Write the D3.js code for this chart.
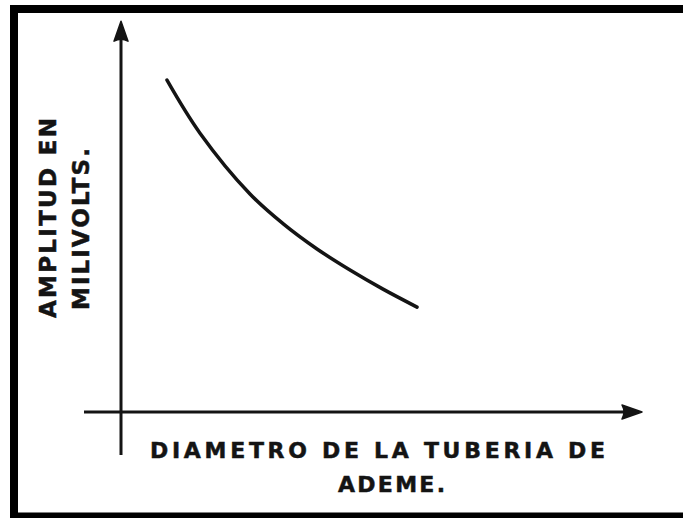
<!DOCTYPE html>
<html>
<head>
<meta charset="utf-8">
<script src="https://cdn.jsdelivr.net/npm/d3@7"></script>
<style>
  html, body { margin: 0; background: #fff; overflow: hidden; }
  svg { display: block; }
  text { font-family: "DejaVu Sans", sans-serif; font-weight: bold; fill: #141414; stroke: #141414; stroke-width: 0.5; }
</style>
</head>
<body>
<div id="chart"></div>
<script>
// values (no units on the original, arbitrary 0-10 scale)
const diameter = [0.92, 1.58, 2.58, 3.24, 3.92, 4.58, 5.24, 5.92];
const amplitude = [8.51, 7.15, 5.59, 4.83, 4.18, 3.64, 3.15, 2.69];
const xLabel = ["DIAMETRO DE LA TUBERIA DE", "ADEME."];
const yLabel = ["AMPLITUD EN", "MILIVOLTS."];

const width = 683, height = 518;
const ink = "#141414";

const svg = d3.select("#chart")
  .append("svg")
  .attr("width", width)
  .attr("height", height);

// frame (top, left, bottom only - right side is cut off in the scan)
svg.append("path")
  .attr("d", "M690,9 L14,9 L14,516.5 L690,516.5")
  .attr("fill", "none")
  .attr("stroke", "#000")
  .attr("stroke-width", 8);

const x = d3.scaleLinear().domain([0, 10]).range([121, 621]);
const y = d3.scaleLinear().domain([0, 10]).range([412, 22]);

// axes drawn as plain arrows
svg.append("line")
  .attr("x1", x(0)).attr("x2", x(0))
  .attr("y1", y(-1.1)).attr("y2", y(9.6))
  .attr("stroke", ink).attr("stroke-width", 3);

svg.append("line")
  .attr("x1", x(-0.74)).attr("x2", x(10.1))
  .attr("y1", y(0)).attr("y2", y(0))
  .attr("stroke", ink).attr("stroke-width", 3);

// arrow heads
const yTip = [x(0), y(10.02)];
svg.append("path")
  .attr("d", `M${yTip[0]},${yTip[1]} L${yTip[0] + 7},${yTip[1] + 20} Q${yTip[0]},${yTip[1] + 16} ${yTip[0] - 7},${yTip[1] + 20} Z`)
  .attr("fill", ink).attr("stroke", ink).attr("stroke-width", 1.5).attr("stroke-linejoin", "round");

const xTip = [x(10.42), y(0)];
svg.append("path")
  .attr("d", `M${xTip[0]},${xTip[1]} L${xTip[0] - 20},${xTip[1] - 7} Q${xTip[0] - 16},${xTip[1]} ${xTip[0] - 20},${xTip[1] + 7} Z`)
  .attr("fill", ink).attr("stroke", ink).attr("stroke-width", 1.5).attr("stroke-linejoin", "round");

// the curve
const pts = diameter.map((d, i) => [d, amplitude[i]]);
const line = d3.line()
  .x(d => x(d[0]))
  .y(d => y(d[1]))
  .curve(d3.curveCatmullRom);

svg.append("path")
  .datum(pts)
  .attr("d", line)
  .attr("fill", "none")
  .attr("stroke", ink)
  .attr("stroke-width", 3.5)
  .attr("stroke-linecap", "round");

// x label
svg.append("text")
  .attr("x", 150).attr("y", 458)
  .attr("font-size", 22)
  .attr("textLength", 455).attr("lengthAdjust", "spacing")
  .text(xLabel[0]);

svg.append("text")
  .attr("x", 338).attr("y", 492)
  .attr("font-size", 22)
  .attr("textLength", 107).attr("lengthAdjust", "spacing")
  .text(xLabel[1]);

// y label, rotated
svg.append("text")
  .attr("transform", "translate(56,318) rotate(-90)")
  .attr("font-size", 23)
  .attr("textLength", 200).attr("lengthAdjust", "spacing")
  .text(yLabel[0]);

svg.append("text")
  .attr("transform", "translate(89,310) rotate(-90)")
  .attr("font-size", 23)
  .attr("textLength", 162).attr("lengthAdjust", "spacing")
  .text(yLabel[1]);
</script>
</body>
</html>
